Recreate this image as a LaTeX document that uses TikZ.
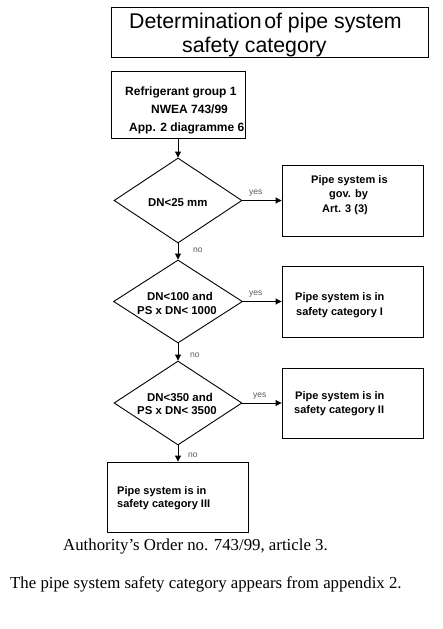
\documentclass[tikz,border=0pt]{standalone}
\usepackage{fontspec}
\newfontfamily\arialf{Liberation Sans}
\newfontfamily\serff{Liberation Serif}
\usetikzlibrary{shapes.geometric,arrows.meta}
\tikzset{
  box/.style={draw, rectangle, line width=0.9pt, inner sep=0pt},
  dia/.style={draw, diamond, line width=0.9pt, inner sep=0pt, aspect=1.5},
  txt/.style={anchor=base west, inner sep=0pt, font=\arialf\bfseries\fontsize{11}{13}\selectfont},
  dtxt/.style={anchor=base west, inner sep=0pt, font=\arialf\bfseries\fontsize{11.4}{13}\selectfont},
  toptxt/.style={anchor=base west, inner sep=0pt, font=\arialf\bfseries\fontsize{12}{14}\selectfont},
  ttl/.style={anchor=base west, inner sep=0pt, font=\arialf\fontsize{21.3}{25}\selectfont},
  lbl/.style={anchor=base west, inner sep=0pt, text=black!65, font=\arialf\fontsize{8.5}{10}\selectfont},
  note/.style={anchor=base west, inner sep=0pt, font=\serff\fontsize{16.8}{20}\selectfont},
  arr/.style={line width=0.9pt, -{Triangle[length=6pt,width=6pt]}}
}
\begin{document}
\begin{tikzpicture}[x=1pt,y=-1pt]
\useasboundingbox (0,0) rectangle (443,629);
% boxes
\node[box, minimum width=317pt, minimum height=50pt] (title) at (269.5,32) {};
\node[box, minimum width=134pt, minimum height=67pt] (start) at (178,104.5) {};
\node[dia, minimum width=128pt, minimum height=85pt] (d1) at (178,200.5) {};
\node[dia, minimum width=129pt, minimum height=83pt] (d2) at (178,301.5) {};
\node[dia, minimum width=128pt, minimum height=84pt] (d3) at (178,403) {};
\node[box, minimum width=141pt, minimum height=71pt] (r1) at (352.5,200.5) {};
\node[box, minimum width=141pt, minimum height=71pt] (r2) at (352.5,301.5) {};
\node[box, minimum width=141pt, minimum height=70pt] (r3) at (352.5,403) {};
\node[box, minimum width=141pt, minimum height=70pt] (fin) at (177.5,497) {};
% title text
\node[ttl] (tt1) at (129,28.3) {Determination\hspace{2.5pt}of pipe system};
\node[ttl] (tt2) at (182,52.5) {safety category};
% start text
\node[toptxt] (s1) at (125,95) {Refrigerant group 1};
\node[toptxt] (s2) at (151,113) {NWEA 743/99};
\node[toptxt] (s3) at (129,131) {App. 2 diagramme 6};
% diamonds text
\node[dtxt] (d1t) at (148,206) {DN<25 mm};
\node[dtxt] (d2t1) at (147,300) {DN<100 and};
\node[dtxt] (d2t2) at (137,314) {PS x DN< 1000};
\node[dtxt] (d3t1) at (147,401) {DN<350 and};
\node[dtxt] (d3t2) at (137,414.5) {PS x DN< 3500};
% result text
\node[txt] (r1t1) at (311,183) {Pipe system is};
\node[txt] (r1t2) at (329,197.5) {gov. by};
\node[txt] (r1t3) at (322,212) {Art. 3 (3)};
\node[txt] (r2t1) at (295,300) {Pipe system is in};
\node[txt] (r2t2) at (296,315) {safety category I};
\node[txt] (r3t1) at (295,399) {Pipe system is in};
\node[txt] (r3t2) at (294,413) {safety category II};
\node[txt] (ft1) at (117,494) {Pipe system is in};
\node[txt] (ft2) at (117,507.5) {safety category III};
% connectors
\draw[arr] (start.south) -- (d1.north);
\draw[arr] (d1.south) -- (d2.north);
\draw[arr] (d2.south) -- (d3.north);
\draw[arr] (d3.south) -- (d3.south |- fin.north);
\draw[arr] (d1.east) -- (d1.east -| r1.west);
\draw[arr] (d2.east) -- (d2.east -| r2.west);
\draw[arr] (d3.east) -- (d3.east -| r3.west);
% labels
\node[lbl] (y1) at (249,194) {yes};
\node[lbl] (y2) at (249,295) {yes};
\node[lbl] (y3) at (253,397) {yes};
\node[lbl] (n1) at (193,252) {no};
\node[lbl] (n2) at (190,357) {no};
\node[lbl] (n3) at (188,457) {no};
% notes
\node[note] (nt1) at (63,550) {Authority’s Order no. 743/99, article 3.};
\node[note] (nt2) at (10,588) {The pipe system safety category appears from appendix 2.};
\end{tikzpicture}
\end{document}
